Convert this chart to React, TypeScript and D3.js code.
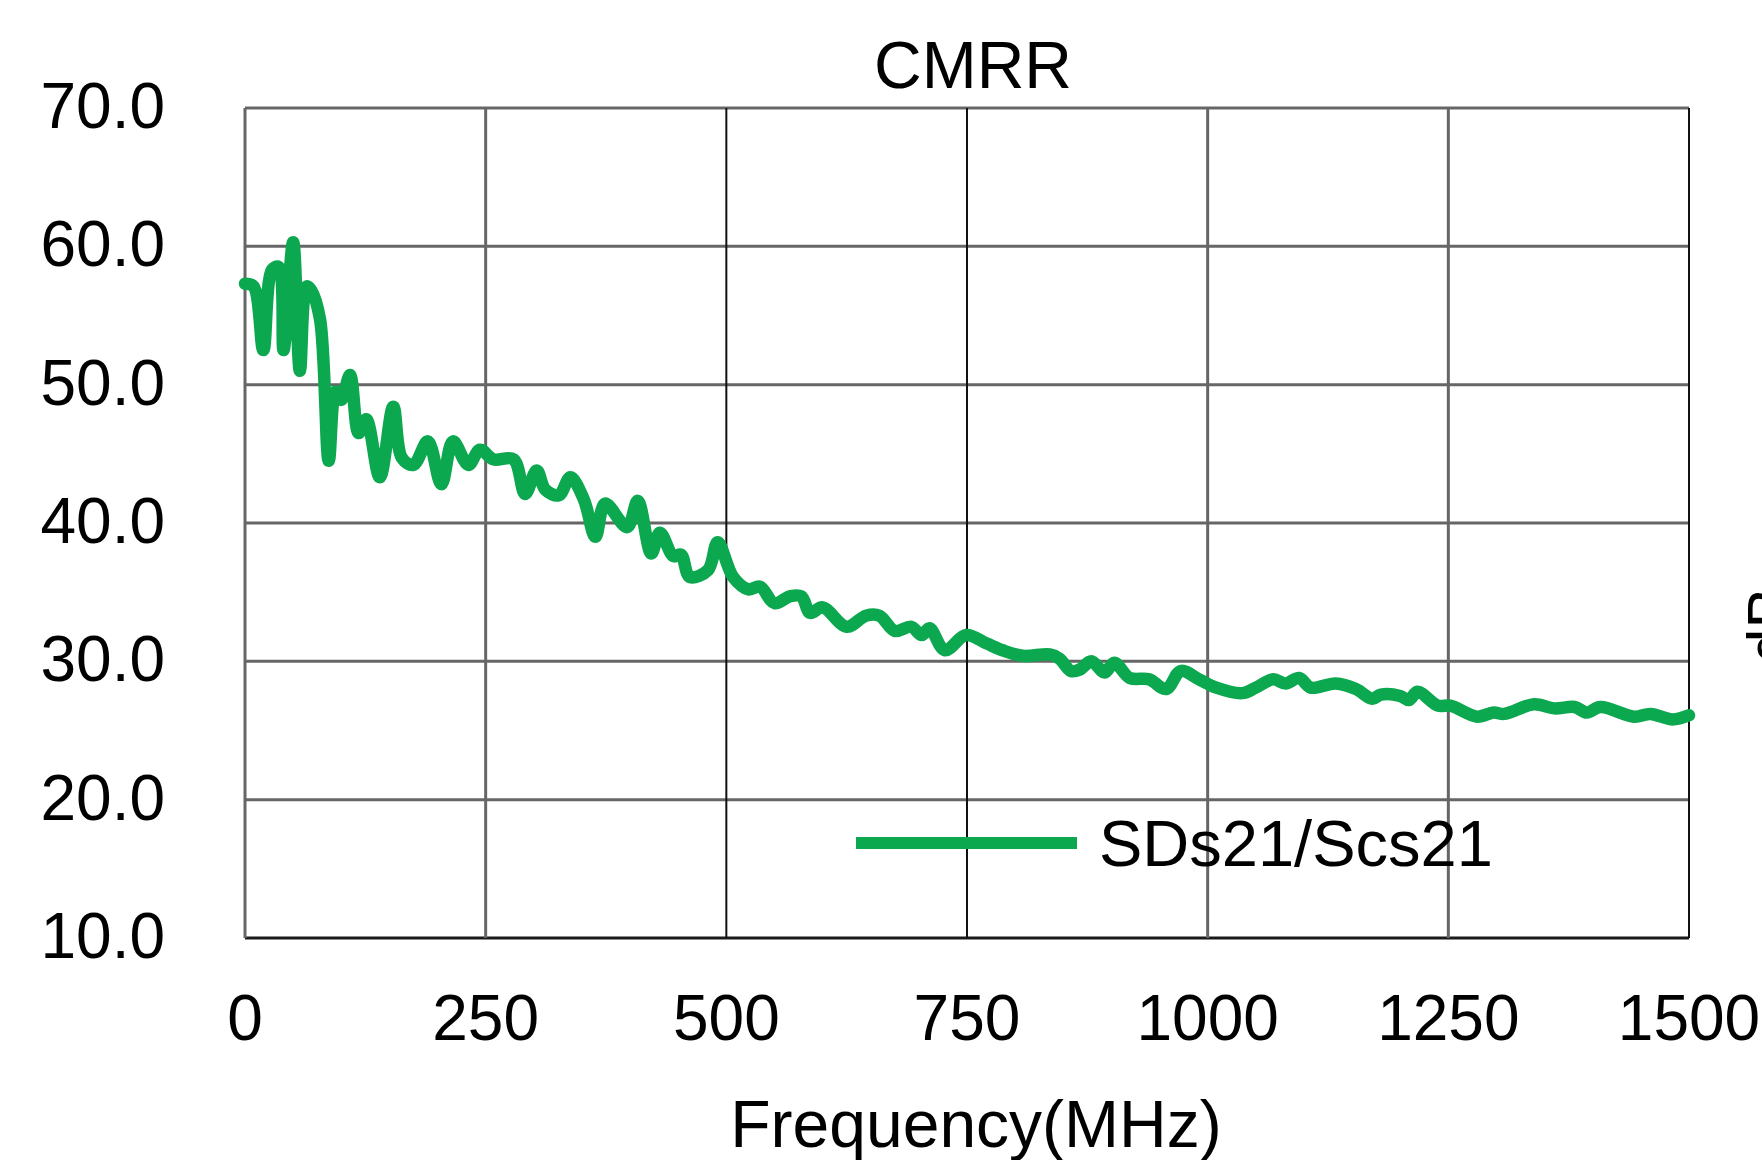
import * as d3 from "d3"

// frequency (MHz) and CMRR (dB)
const freq = [
  0, 9, 19, 28, 35, 40, 50, 57, 64, 69, 78, 87, 94, 100, 109, 118, 126, 140, 154, 163,
  175, 190, 204, 216, 232, 244, 258, 279, 291, 303, 312, 326, 338, 352, 364, 374, 397, 408, 422, 431,
  445, 453, 462, 481, 491, 507, 523, 535, 550, 566, 578, 587, 600, 625, 645, 659, 675, 692, 703, 711,
  727, 749, 770, 787, 808, 836, 846, 858, 867, 879, 893, 903, 919, 939, 957, 972, 991, 1009, 1036, 1050,
  1068, 1081, 1095, 1107, 1133, 1154, 1171, 1180, 1200, 1209, 1218, 1239, 1252, 1280, 1297, 1308, 1339, 1360, 1381, 1394,
  1408, 1443, 1460, 1483, 1500,
]
const cmrr = [
  57.3, 57.1, 52.5, 58.3, 58.5, 52.5, 60.3, 51.0, 57.1, 56.8, 54.7, 44.5, 49.5, 48.9, 50.7, 46.5, 47.5, 43.3, 48.4, 44.7,
  44.2, 45.9, 42.8, 45.9, 44.2, 45.3, 44.6, 44.6, 42.1, 43.8, 42.4, 42.0, 43.3, 41.7, 39.0, 41.4, 39.7, 41.6, 37.8, 39.3,
  37.6, 37.7, 36.1, 36.6, 38.6, 36.1, 35.2, 35.4, 34.2, 34.7, 34.7, 33.5, 33.9, 32.5, 33.3, 33.3, 32.2, 32.5, 31.9, 32.4,
  30.8, 31.9, 31.3, 30.8, 30.4, 30.5, 30.2, 29.3, 29.4, 30.0, 29.2, 29.9, 28.8, 28.7, 28.0, 29.3, 28.7, 28.1, 27.7, 28.1,
  28.7, 28.4, 28.8, 28.1, 28.4, 28.0, 27.3, 27.6, 27.5, 27.2, 27.8, 26.8, 26.8, 26.0, 26.3, 26.2, 26.9, 26.6, 26.7, 26.3,
  26.7, 26.0, 26.2, 25.8, 26.1,
]
const xTicks = [0, 250, 500, 750, 1000, 1250, 1500]
const yTicks = [10, 20, 30, 40, 50, 60, 70]
const seriesName = "SDs21/Scs21"

const W = 1762
const H = 1160
const PLOT = { left: 245, right: 1689, top: 108, bottom: 938 }
const GREEN = "#0ca84f"
const FONT = "'Liberation Sans', Arial, sans-serif"

export default function App() {
  const x = d3.scaleLinear().domain([0, 1500]).range([PLOT.left, PLOT.right])
  const y = d3.scaleLinear().domain([10, 70]).range([PLOT.bottom, PLOT.top])

  const pts = freq.map((f, i) => [f, cmrr[i]] as [number, number])
  const line = d3
    .line<[number, number]>()
    .x((d) => x(d[0]))
    .y((d) => y(d[1]))
    .curve(d3.curveCatmullRom.alpha(0.5))

  const darkX = new Set([500, 750, 1500])

  return (
    <svg
      width={W}
      height={H}
      style={{ position: "absolute", left: 0, top: 0, background: "#fff" }}
      fontFamily={FONT}
    >
      {/* horizontal grid */}
      {yTicks.map((t) => (
        <line
          key={"h" + t}
          x1={PLOT.left}
          x2={PLOT.right}
          y1={y(t)}
          y2={y(t)}
          stroke={t === 10 ? "#1a1a1a" : "#666"}
          strokeWidth={3}
        />
      ))}
      {/* vertical grid */}
      {xTicks.map((t) => (
        <line
          key={"v" + t}
          x1={x(t)}
          x2={x(t)}
          y1={PLOT.top}
          y2={PLOT.bottom}
          stroke={darkX.has(t) ? "#111" : "#666"}
          strokeWidth={darkX.has(t) ? 2 : 3}
        />
      ))}

      {/* y tick labels */}
      {yTicks.map((t) => (
        <text key={"yl" + t} x={165} y={y(t) + 20} textAnchor="end" fontSize={64} fill="#000">
          {t.toFixed(1)}
        </text>
      ))}
      {/* x tick labels */}
      {xTicks.map((t) => (
        <text key={"xl" + t} x={x(t)} y={1040} textAnchor="middle" fontSize={64} fill="#000">
          {t}
        </text>
      ))}

      <path
        d={line(pts) ?? ""}
        fill="none"
        stroke={GREEN}
        strokeWidth={12.5}
        strokeLinejoin="round"
        strokeLinecap="round"
      />

      {/* legend */}
      <line x1={856} x2={1077} y1={843} y2={843} stroke={GREEN} strokeWidth={12} />
      <text x={1099} y={866} fontSize={65} fill="#000">
        {seriesName}
      </text>

      <text x={973} y={88} textAnchor="middle" fontSize={66} fill="#000">
        CMRR
      </text>
      <text x={976} y={1147} textAnchor="middle" fontSize={66} fill="#000">
        Frequency(MHz)
      </text>
      <text
        transform={`translate(1790,625) rotate(-90)`}
        textAnchor="middle"
        fontSize={62}
        fill="#000"
      >
        dB
      </text>
    </svg>
  )
}
